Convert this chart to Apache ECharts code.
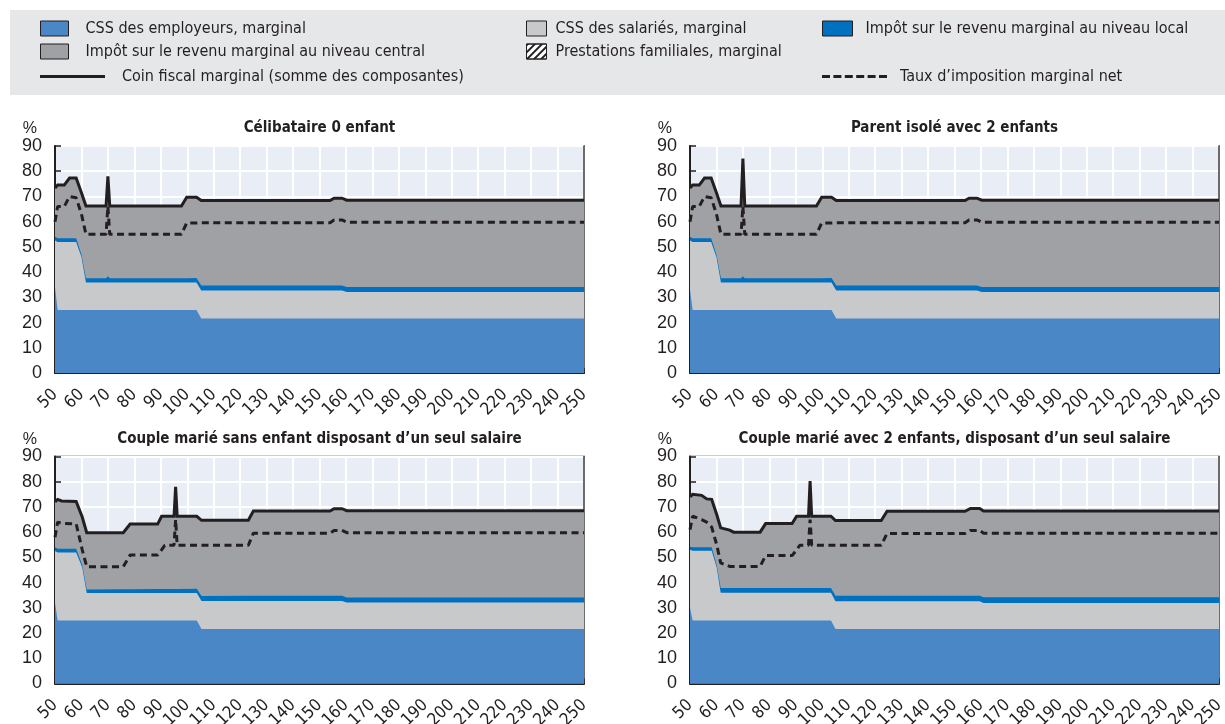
<!DOCTYPE html>
<html><head><meta charset="utf-8">
<script src="https://cdn.jsdelivr.net/npm/echarts@6/dist/echarts.min.js"></script>
<style>html,body{margin:0;padding:0;background:#fff}#c{width:1225px;height:724px}</style>
</head><body><div id="c"></div>
<script>
// ---------- DATA ----------
const panelTitles = [
  'Célibataire 0 enfant',
  'Parent isolé avec 2 enfants',
  'Couple marié sans enfant disposant d’un seul salaire',
  'Couple marié avec 2 enfants, disposant d’un seul salaire'
];
const xTicks = [50,60,70,80,90,100,110,120,130,140,150,160,170,180,190,200,210,220,230,240,250];
const yTicks = [0,10,20,30,40,50,60,70,80,90];

// Panel 1 : Célibataire 0 enfant
const x1 = [50, 51, 53.5, 55.5, 58, 60, 61.7, 69.3, 70, 70.7, 97.8, 99.8, 103.5, 105.3, 154, 155.5, 158.5, 160.3, 250];
const employer1 = [34, 25, 25, 25, 25, 25, 25, 25, 25, 25, 25, 25, 25, 21.6, 21.6, 21.6, 21.6, 21.6, 21.6];
const employee1 = [18.5, 26.9, 26.9, 26.9, 26.9, 21, 10.9, 10.9, 10.9, 10.9, 10.9, 10.9, 10.9, 11.1, 11.1, 11.1, 11.1, 10.5, 10.5];
const local1 = [1.5, 1.5, 1.5, 1.5, 1.5, 1.0, 1.7, 1.7, 2.5, 1.7, 1.7, 1.7, 1.8, 2.0, 2.0, 2.0, 2.0, 2.0, 2.0];
const central1 = [19.3, 21.1, 21.1, 23.9, 23.9, 24.5, 28.6, 28.6, 39.6, 28.6, 28.6, 32.1, 32.0, 33.7, 33.7, 34.6, 34.6, 34.4, 34.4];
const wedge1 = [73.3, 74.5, 74.5, 77.3, 77.3, 71.5, 66.2, 66.2, 78, 66.2, 66.2, 69.7, 69.7, 68.4, 68.4, 69.3, 69.3, 68.5, 68.5];
const net1 = [60, 66, 66, 70, 69.5, 63, 55, 55, 66, 55, 55, 59.5, 59.5, 59.6, 59.6, 60.7, 60.7, 59.8, 59.8];

// Panel 2 : Parent isolé avec 2 enfants
const x2 = [50, 51, 53.5, 55.5, 58, 60, 61.7, 69.3, 70, 70.7, 97.8, 99.8, 103.5, 105.3, 154, 155.5, 158.5, 160.3, 250];
const employer2 = [33, 25, 25, 25, 25, 25, 25, 25, 25, 25, 25, 25, 25, 21.6, 21.6, 21.6, 21.6, 21.6, 21.6];
const employee2 = [19.5, 26.9, 26.9, 26.9, 26.9, 21, 10.9, 10.9, 10.9, 10.9, 10.9, 10.9, 10.9, 11.1, 11.1, 11.1, 11.1, 10.5, 10.5];
const local2 = [1.5, 1.5, 1.5, 1.5, 1.5, 1.0, 1.7, 1.7, 2.5, 1.7, 1.7, 1.7, 1.8, 2.0, 2.0, 2.0, 2.0, 2.0, 2.0];
const central2 = [19.3, 21.1, 21.1, 23.9, 23.9, 24.5, 28.6, 28.6, 46.6, 28.6, 28.6, 32.1, 32.0, 33.7, 33.7, 34.6, 34.6, 34.4, 34.4];
const wedge2 = [73.3, 74.5, 74.5, 77.3, 77.3, 71.5, 66.2, 66.2, 85, 66.2, 66.2, 69.7, 69.7, 68.4, 68.4, 69.3, 69.3, 68.5, 68.5];
const net2 = [60, 66, 66, 70, 69.5, 63, 55, 55, 66, 55, 55, 59.5, 59.5, 59.6, 59.6, 60.7, 60.7, 59.8, 59.8];

// Panel 3 : Couple marié sans enfant, un seul salaire
const x3 = [50, 51, 52.5, 58, 60.3, 62, 75.8, 78.4, 88.8, 90.3, 91.5, 95.0, 95.6, 96.2, 103.6, 105.4, 123.1, 125, 154, 155.5, 158.5, 160.3, 250];
const employer3 = [32, 25, 25, 25, 25, 25, 25, 25, 25, 25, 25, 25, 25, 25, 25, 21.6, 21.6, 21.6, 21.6, 21.6, 21.6, 21.6, 21.6];
const employee3 = [20.5, 26.9, 26.9, 26.9, 21, 10.9, 10.9, 10.9, 10.9, 10.9, 10.9, 10.9, 10.9, 10.9, 10.9, 11.1, 11.1, 11.1, 11.1, 11.1, 11.1, 10.5, 10.5];
const local3 = [1.5, 1.5, 1.5, 1.5, 1.0, 1.4, 1.5, 1.5, 1.6, 1.6, 1.6, 1.6, 2.3, 1.6, 1.7, 2.0, 2.1, 2.1, 2.1, 2.1, 2.1, 2.0, 2.0];
const central3 = [18.0, 19.6, 19.0, 18.8, 19.0, 22.5, 22.4, 25.8, 25.7, 28.8, 28.8, 28.8, 39.8, 28.8, 28.7, 30.0, 29.9, 33.6, 33.6, 34.5, 34.5, 34.4, 34.4];
const wedge3 = [72.0, 73.0, 72.4, 72.2, 66, 59.8, 59.8, 63.2, 63.2, 66.3, 66.3, 66.3, 78, 66.3, 66.3, 64.7, 64.7, 68.4, 68.4, 69.3, 69.3, 68.5, 68.5];
const net3 = [58, 64, 63.5, 63.3, 53, 46.3, 46.3, 50.9, 50.9, 53, 54.8, 54.8, 65, 54.8, 54.8, 54.8, 54.8, 59.6, 59.6, 60.7, 60.7, 59.8, 59.8];

// Panel 4 : Couple marié avec 2 enfants, un seul salaire
const x4 = [50, 51, 54.4, 56.3, 58.2, 60.1, 61.6, 65, 66.5, 76.5, 78.6, 88.6, 90.3, 91.5, 94.8, 95.4, 96.0, 103.3, 105, 122.3, 124.5, 154, 156, 159.5, 161, 250];
const employer4 = [30, 25, 25, 25, 25, 25, 25, 25, 25, 25, 25, 25, 25, 25, 25, 25, 25, 25, 21.6, 21.6, 21.6, 21.6, 21.6, 21.6, 21.6, 21.6];
const employee4 = [23.0, 27.6, 27.6, 27.6, 27.6, 21, 11.0, 11.0, 11.0, 11.0, 11.0, 11.0, 11.0, 11.0, 11.0, 11.0, 11.0, 11.0, 11.0, 11.0, 11.0, 11.0, 11.0, 11.0, 10.3, 10.3];
const local4 = [1.2, 1.4, 1.4, 1.4, 1.4, 1.0, 1.9, 1.9, 1.9, 1.9, 1.9, 1.9, 1.9, 1.9, 1.9, 2.6, 1.9, 1.9, 2.2, 2.2, 2.2, 2.2, 2.2, 2.2, 2.3, 2.3];
const central4 = [19.8, 21.0, 20.6, 19.2, 19.0, 20.0, 23.8, 22.9, 22.1, 22.1, 25.5, 25.5, 28.4, 28.4, 28.4, 41.7, 28.4, 28.4, 29.8, 29.8, 33.5, 33.5, 34.6, 34.6, 34.2, 34.2];
const wedge4 = [74.0, 75.0, 74.6, 73.2, 73.0, 67, 61.7, 60.8, 60.0, 60.0, 63.4, 63.4, 66.3, 66.3, 66.3, 80.3, 66.3, 66.3, 64.6, 64.6, 68.3, 68.3, 69.4, 69.4, 68.4, 68.4];
const net4 = [61, 66.3, 65, 64, 62, 55, 47.8, 46.4, 46.4, 46.4, 50.7, 50.7, 53, 54.8, 54.8, 65, 54.8, 54.8, 54.8, 54.8, 59.5, 59.5, 60.7, 60.7, 59.6, 59.6];

// ---------- STYLE ----------
const C = {
  employer: '#4a87c7', employee: '#c8c9cb', local: '#0070c0', central: '#a0a1a5',
  ink: '#231f20', plot: '#e9eef6', legendBg: '#e6e7e8'
};
const FONT_N = "'DejaVu Sans Condensed','Liberation Sans Narrow',sans-serif";
const FONT = "'Liberation Sans',Arial,sans-serif";
const NAMES = {
  employer: 'CSS des employeurs, marginal',
  employee: 'CSS des salariés, marginal',
  local: 'Impôt sur le revenu marginal au niveau local',
  central: 'Impôt sur le revenu marginal au niveau central',
  family: 'Prestations familiales, marginal',
  wedge: 'Coin fiscal marginal (somme des composantes)',
  net: 'Taux d’imposition marginal net'
};

const panels = [
  {x: x1, employer: employer1, employee: employee1, local: local1, central: central1, wedge: wedge1, net: net1},
  {x: x2, employer: employer2, employee: employee2, local: local2, central: central2, wedge: wedge2, net: net2},
  {x: x3, employer: employer3, employee: employee3, local: local3, central: central3, wedge: wedge3, net: net3},
  {x: x4, employer: employer4, employee: employee4, local: local4, central: central4, wedge: wedge4, net: net4}
];

const gridPos = [
  {left: 55, top: 146, width: 529, height: 227},
  {left: 690, top: 146, width: 529, height: 227},
  {left: 55, top: 456.5, width: 529, height: 227},
  {left: 690, top: 456.5, width: 529, height: 227}
];

const grids = [], xAxes = [], yAxes = [], series = [], titles = [];
gridPos.forEach((g, i) => {
  grids.push(Object.assign({show: true, backgroundColor: C.plot, borderColor: '#3a3a3a', borderWidth: 1.5,
    containLabel: false, outerBoundsMode: 'none'}, g));
  titles.push({
    text: panelTitles[i], left: g.left + g.width / 2, top: g.top - 25, textAlign: 'center', padding: 0,
    textStyle: {fontFamily: FONT_N, fontSize: 15, fontWeight: 'bold', color: C.ink}
  });
  xAxes.push({
    gridIndex: i, type: 'value', min: xTicks[0], max: xTicks[xTicks.length - 1], interval: 10,
    axisLine: {show: true, onZero: false, lineStyle: {color: C.ink, width: 2}},
    axisTick: {show: true, inside: true, length: 5, lineStyle: {color: C.ink, width: 1.5}},
    axisLabel: {rotate: 45, margin: 19, fontSize: 17, fontFamily: FONT_N, color: C.ink},
    splitLine: {show: true, lineStyle: {color: '#ffffff', width: 2}}
  });
  yAxes.push({
    gridIndex: i, type: 'value', min: yTicks[0], max: yTicks[yTicks.length - 1], interval: 10,
    name: '%', nameLocation: 'end', nameGap: 9,
    nameTextStyle: {fontFamily: FONT, fontSize: 16, color: C.ink, align: 'right', padding: [0, 18, 0, 0]},
    axisLine: {show: true, lineStyle: {color: C.ink, width: 2}},
    axisTick: {show: true, inside: true, length: 6, lineStyle: {color: C.ink, width: 1.5}},
    axisLabel: {margin: 13, fontSize: 18, fontFamily: FONT, color: C.ink},
    splitLine: {show: true, lineStyle: {color: '#ffffff', width: 2}}
  });
});
// right-hand frame line of each panel
gridPos.forEach((g, i) => {
  yAxes.push({
    gridIndex: i, type: 'value', min: 0, max: 90, position: 'right',
    axisLine: {show: true, lineStyle: {color: '#3a3a3a', width: 1.5}},
    axisTick: {show: false}, axisLabel: {show: false}, splitLine: {show: false}
  });
});

function pairs(xs, ys) { return xs.map((x, k) => [x, ys[k]]); }
function area(name, i, xs, ys, color) {
  return {
    type: 'line', name, xAxisIndex: i, yAxisIndex: i, data: pairs(xs, ys), color,
    symbol: 'none', showSymbol: false, silent: true, z: 2,
    lineStyle: {width: 0, color}, areaStyle: {color, opacity: 1}
  };
}

panels.forEach((p, i) => {
  // cumulative levels of the stacked components
  const lvEmployer = p.employer.slice();
  const lvEmployee = p.employer.map((v, k) => v + p.employee[k]);
  const lvLocal = lvEmployee.map((v, k) => v + p.local[k]);
  const lvCentral = lvLocal.map((v, k) => v + p.central[k]);
  series.push(area(NAMES.central, i, p.x, lvCentral, C.central));
  series.push(area(NAMES.local, i, p.x, lvLocal, C.local));
  series.push(area(NAMES.employee, i, p.x, lvEmployee, C.employee));
  series.push(area(NAMES.employer, i, p.x, lvEmployer, C.employer));
  series.push({
    type: 'line', name: NAMES.wedge, xAxisIndex: i, yAxisIndex: i, data: pairs(p.x, p.wedge),
    symbol: 'none', showSymbol: false, silent: true, z: 4, color: C.ink,
    lineStyle: {width: 3, color: C.ink, join: 'miter', miterLimit: 4}
  });
  series.push({
    type: 'line', name: NAMES.net, xAxisIndex: i, yAxisIndex: i, data: pairs(p.x, p.net),
    symbol: 'none', showSymbol: false, silent: true, z: 4, color: C.ink,
    lineStyle: {width: 3, color: C.ink, type: [7, 4.5]}
  });
});
series.push({type: 'line', name: NAMES.family, xAxisIndex: 0, yAxisIndex: 0, data: [], color: '#ffffff', symbol: 'none'});

const legText = (pl) => ({fontFamily: FONT_N, fontSize: 16, color: C.ink, padding: [0, 0, 0, pl]});
const boxStyle = (color) => ({color, borderColor: C.ink, borderWidth: 1});
const dashPath = 'path://M0 0h8v3h-8z M11.4 0h8v3h-8z M22.8 0h8v3h-8z M34.2 0h8v3h-8z M45.6 0h8v3h-8z M57 0h8v3h-8z';
const solidPath = 'path://M0 0h65v3h-65z';
const legends = [
  {left: 40, top: 20.5, icon: 'rect', itemWidth: 28, itemHeight: 15, data: [NAMES.employer], itemStyle: boxStyle(C.employer), textStyle: legText(12)},
  {left: 40, top: 43.5, icon: 'rect', itemWidth: 28, itemHeight: 15, data: [NAMES.central], itemStyle: boxStyle(C.central), textStyle: legText(12)},
  {left: 40, top: 68.5, icon: solidPath, itemWidth: 65, itemHeight: 15, data: [NAMES.wedge], itemStyle: {color: C.ink, borderWidth: 0}, textStyle: legText(12)},
  {left: 526, top: 20.5, icon: 'rect', itemWidth: 20, itemHeight: 15, data: [NAMES.employee], itemStyle: boxStyle(C.employee), textStyle: legText(4)},
  {left: 526, top: 43.5, icon: 'rect', itemWidth: 20, itemHeight: 15, data: [NAMES.family], textStyle: legText(4),
    itemStyle: {color: '#ffffff', borderColor: C.ink, borderWidth: 1,
      decal: {symbol: 'rect', symbolSize: 1, color: C.ink, dashArrayX: [1, 0], dashArrayY: [1.5, 2.5], rotation: -Math.PI / 4}}},
  {left: 822, top: 20.5, icon: 'rect', itemWidth: 30, itemHeight: 15, data: [NAMES.local], itemStyle: boxStyle(C.local), textStyle: legText(8)},
  {left: 822, top: 68.5, icon: dashPath, itemWidth: 65, itemHeight: 15, data: [NAMES.net], itemStyle: {color: C.ink, borderWidth: 0}, textStyle: legText(8)}
].map(l => Object.assign({padding: 0, itemGap: 0, selectedMode: false, orient: 'horizontal'}, l));

const chart = echarts.init(document.getElementById('c'), null, {renderer: 'canvas', width: 1225, height: 724});
chart.setOption({
  animation: false,
  backgroundColor: '#ffffff',
  graphic: [{type: 'rect', left: 10, top: 10, shape: {width: 1215, height: 85}, style: {fill: C.legendBg}, z: -10, silent: true}],
  title: titles,
  legend: legends,
  grid: grids,
  xAxis: xAxes,
  yAxis: yAxes,
  series: series
});
</script></body></html>
